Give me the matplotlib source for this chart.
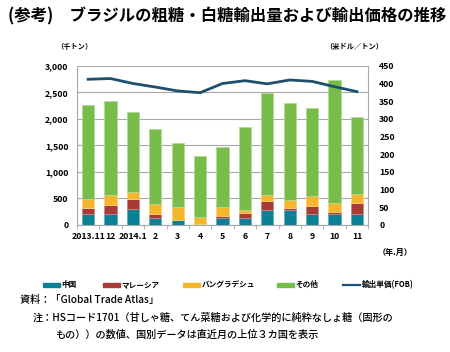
import matplotlib.pyplot as plt
from matplotlib.lines import Line2D
from matplotlib.patches import Rectangle

plt.rcParams['font.family'] = ['Noto Sans CJK JP', 'DejaVu Sans']

months = ['2013.11', '12', '2014.1', '2', '3', '4', '5', '6', '7', '8', '9', '10', '11']
china = [213, 213, 300, 140, 100, 10, 140, 140, 275, 275, 215, 200, 215]
malaysia = [107, 170, 195, 70, 0, 0, 25, 80, 180, 40, 145, 50, 200]
bangladesh = [170, 176, 130, 180, 245, 140, 175, 60, 100, 155, 190, 170, 175]
others = [1770, 1782, 1505, 1410, 1205, 1143, 1120, 1570, 1935, 1825, 1660, 2310, 1445]
price = [412, 414, 400, 390, 379, 374, 400, 408, 399, 410, 406, 391, 377]
labels = ['中国', 'マレーシア', 'バングラデシュ', 'その他', '輸出単価(FOB)']

c_china = '#0C8196'
c_mal = '#A83B37'
c_ban = '#F6B62B'
c_oth = '#78BD4B'
c_line = '#1E4F6E'

W, H = 450, 352
fig = plt.figure(figsize=(4.5, 3.52), dpi=100)
ax = fig.add_axes([0.171, 0.361, 0.647, 0.452])

x = range(len(months))
w = 0.55
bottom = [0] * len(months)
for vals, col, edge in [(china, c_china, '#5FB0BE'), (malaysia, c_mal, '#C98583'),
                        (bangladesh, c_ban, '#FAD27E'), (others, c_oth, '#B3DA98')]:
    ax.bar(x, vals, w, bottom=bottom, color=col, edgecolor=edge, linewidth=0.6, zorder=3)
    bottom = [b + v for b, v in zip(bottom, vals)]

ax.set_ylim(0, 3000)
ax.set_xlim(-0.5, len(months) - 0.5)
ax.set_yticks(range(0, 3001, 500))
ax.set_yticklabels([f'{v:,}' for v in range(0, 3001, 500)])
ax.grid(axis='y', color='#A8A8A8', linewidth=0.8, zorder=0)
ax.set_xticks(list(x))
ax.set_xticklabels(months)
ax.set_xticks([i + 0.5 for i in range(-1, len(months))], minor=True)
ax.tick_params(axis='x', which='major', length=0, labelsize=6.3, pad=5)
ax.tick_params(axis='x', which='minor', length=3, color='#A8A8A8')
ax.tick_params(axis='y', length=0, labelsize=6.3, pad=6)
for lab in ax.get_xticklabels() + ax.get_yticklabels():
    lab.set_fontweight('bold')
ax.spines['top'].set_visible(False)
for s in ['left', 'bottom', 'right']:
    ax.spines[s].set_color('#A8A8A8')
    ax.spines[s].set_linewidth(0.8)

ax2 = ax.twinx()
ax2.plot(list(x), price, color=c_line, linewidth=2, zorder=5)
ax2.set_ylim(0, 450)
ax2.set_yticks(range(0, 451, 50))
ax2.tick_params(axis='y', length=0, labelsize=6.3, pad=8)
for lab in ax2.get_yticklabels():
    lab.set_fontweight('bold')
for s in ['top', 'left', 'bottom', 'right']:
    ax2.spines[s].set_visible(False)

fig.text(0.018, 0.952, '(参考)　ブラジルの粗糖・白糖輸出量および輸出価格の推移',
         fontsize=11.8, fontweight='bold', va='center', ha='left')
fig.text(0.125, 0.868, '（千トン）', fontsize=5.2, fontweight='bold', va='center', ha='left')
fig.text(0.722, 0.868, '（米ドル／トン）', fontsize=5.2, fontweight='bold', va='center', ha='left')
fig.text(0.84, 0.282, '（年.月）', fontsize=5.8, fontweight='bold', va='center', ha='left')

# legend drawn by hand (Excel-style spacing)
leg_x = [43, 103, 183, 277, 343]
leg_y = 1 - 284.5 / H
leg_cols = [c_china, c_mal, c_ban, c_oth]
for i, lab in enumerate(labels):
    x0 = leg_x[i] / W
    if i < 4:
        fig.add_artist(Rectangle((x0, leg_y - 2 / H), 17 / W, 4 / H,
                                 color=leg_cols[i], transform=fig.transFigure))
    else:
        fig.add_artist(Line2D([x0, x0 + 17 / W], [leg_y, leg_y], color=c_line,
                              lw=1.6, transform=fig.transFigure))
    fig.text(x0 + 18.5 / W, leg_y, lab, fontsize=5.5, fontweight='bold',
             va='center', ha='left')

fig.text(0.045, 0.147, '資料：「Global Trade Atlas」', fontsize=7.3, fontweight='medium',
         va='center', ha='left')
fig.text(0.073, 0.097, '注：HSコード1701（甘しゃ糖、てん菜糖および化学的に純粋なしょ糖（固形の',
         fontsize=7.3, fontweight='medium', va='center', ha='left')
fig.text(0.122, 0.05, 'もの））の数値、国別データは直近月の上位３カ国を表示',
         fontsize=7.3, fontweight='medium', va='center', ha='left')

fig.savefig('out.png', dpi=100)
